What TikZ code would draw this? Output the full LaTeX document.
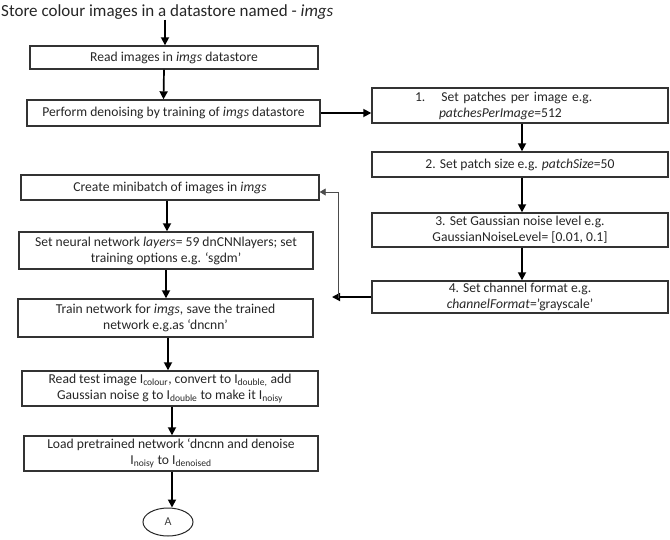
\documentclass[tikz,border=0pt]{standalone}
\usepackage{fontspec}
\setmainfont{Carlito}
\usetikzlibrary{arrows.meta,shapes.geometric}

\begin{document}
\begin{tikzpicture}[
		x=1pt, y=-1pt,
		box/.style={rectangle, draw=black!80, line width=1.4pt, align=center, inner sep=2pt,
			font=\fontsize{13.6}{16}\selectfont, text=black!85},
		arr/.style={line width=1.7pt, -{Triangle[length=8pt, width=8pt]}},
		back/.style={line width=0.9pt, draw=black!70, -{Triangle[length=6pt, width=7pt]}}
	]
  \useasboundingbox (0, 0) rectangle (670, 539);
  \node (title) [anchor=west, inner sep=0pt, font=\fontsize{17}{20}\selectfont, text=black!85] at (1, 12) {Store colour images in a datastore named - \textit{imgs}};
  \node (read_i) [box, minimum width=288pt, minimum height=23pt] at (174, 57.5) {Read images in \textit{imgs} datastore};
  \node (perf_d) [box, minimum width=293pt, minimum height=26pt] at (173.5, 113) {Perform denoising by training of \textit{imgs} datastore};
  \node (set_pp) [box, minimum width=296pt, minimum height=35pt, text width=288pt, align=left] at (520, 105.5)
    {\hspace*{39pt}1.\hspace{16pt}Set patches per image e.g.\\ \hspace*{63pt}\textit{patchesPerImage}=512};
  \node (set_ps) [box, minimum width=296pt, minimum height=25pt] at (520, 164.5) {2. Set patch size e.g. \textit{patchSize}=50};
  \node (set_gn) [box, minimum width=296pt, minimum height=34pt] at (520, 230) {3. Set Gaussian noise level e.g.\\ GaussianNoiseLevel= [0.01, 0.1]};
  \node (set_cf) [box, minimum width=296pt, minimum height=32pt] at (520, 297) {4. Set channel format e.g.\\ \textit{channelFormat}=’grayscale’};
  \node (mini_b) [box, minimum width=298pt, minimum height=25pt] at (170, 187.5) {Create minibatch of images in \textit{imgs}};
  \node (set_nn) [box, minimum width=294pt, minimum height=37pt] at (166, 250.5) {Set neural network \textit{layers}= 59 dnCNNlayers; set\\ training options e.g. ‘sgdm’};
  \node (train_n) [box, minimum width=295pt, minimum height=38pt] at (165.5, 318) {Train network for \textit{imgs,} save the trained\\ network e.g.as ‘dncnn’};
  \node (read_t) [box, minimum width=296pt, minimum height=35pt] at (170, 388.5) {Read test image I\textsubscript{colour}, convert to I\textsubscript{double,} add\\ Gaussian noise g to I\textsubscript{double} to make it I\textsubscript{noisy}};
  \node (load_p) [box, minimum width=294pt, minimum height=35pt] at (171, 453.5) {Load pretrained network ‘dncnn and denoise\\ I\textsubscript{noisy} to I\textsubscript{denoised}};
  \node (conn_a) [ellipse, draw=black!85, line width=1pt, minimum width=50pt, minimum height=28pt, inner sep=0pt,
    font=\fontsize{12}{14}\selectfont, text=black!75] at (168, 522) {A};
  \coordinate (fb_end) at (332, 297);
  \coordinate (fb_v) at (338, 298);
  \draw [arr] ([xshift=-9pt]title.south -| read_i) -- ([xshift=-9pt]read_i.north);
  \draw [arr] ([xshift=-10pt]read_i.south) -- ([xshift=-10pt]perf_d.north);
  \draw [arr] (perf_d.east) -- (set_pp.west |- perf_d.east);
  \draw [arr] ([xshift=2pt]set_pp.south) -- ([xshift=2pt]set_ps.north);
  \draw [arr] ([xshift=2pt]set_ps.south) -- ([xshift=2pt]set_gn.north);
  \draw [arr] ([xshift=2pt]set_gn.south) -- ([xshift=2pt]set_cf.north);
  \draw [arr] (set_cf.west) -- (fb_end);
  \draw [back] (fb_v) |- ([yshift=-4.5pt]mini_b.east);
  \draw [arr] ([xshift=-3pt]mini_b.south) -- ([xshift=-3pt]mini_b.south |- set_nn.north);
  \draw [arr] (set_nn.south) -- (set_nn.south |- train_n.north);
  \draw [arr] ([xshift=2.5pt]train_n.south) -- ([xshift=2.5pt]train_n.south |- read_t.north);
  \draw [arr] ([xshift=2pt]read_t.south) -- ([xshift=2pt]read_t.south |- load_p.north);
  \draw [arr] ([xshift=1pt]load_p.south) -- ([xshift=1pt]load_p.south |- conn_a.north);
\end{tikzpicture}
\end{document}
